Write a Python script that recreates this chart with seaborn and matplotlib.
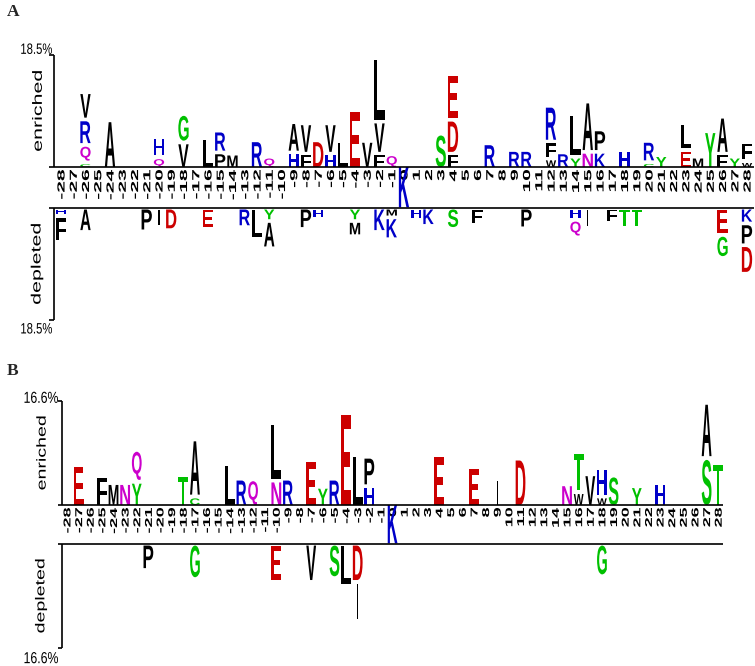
import matplotlib
matplotlib.use("Agg")
import matplotlib.pyplot as plt
import seaborn as sns
from matplotlib.textpath import TextPath
from matplotlib.patches import PathPatch
from matplotlib.font_manager import FontProperties
from matplotlib.transforms import Affine2D, ScaledTranslation

sns.set_theme(style="white")
plt.rcParams["font.family"] = ["Liberation Sans", "DejaVu Sans"]

# ---- panel A, enriched (letters listed from the axis outward, heights in %)
A_UP_POS = [-26, -24, -20, -18, -16, -15, -14, -12, -11, -9, -8, -7, -6, -5, -4, -3, -2, -1,
            3, 4, 7, 9, 10, 12, 13, 14, 15, 16, 18, 20, 21, 23, 24, 25, 26, 27, 28]
A_UP_RES = ["CQRV", "A", "QH", "VG", "L", "PR", "M", "R", "Q", "HA", "FV", "D", "HV", "L", "E", "V",
            "FVL", "Q", "S", "FDE", "R", "R", "R", "WFR", "R", "YL", "NA", "KP", "H", "CR", "Y",
            "EL", "M", "Y", "FA", "Y", "WF"]
A_UP_PCT = [[0.45, 2.3, 3.6, 3.9], [7.4], [1.3, 2.7], [3.75, 4.1], [4.5], [2.1, 3.0], [1.9], [4.1],
            [1.4], [2.1, 4.4], [1.9, 4.4], [4.1], [1.9, 4.4], [3.9], [9.1], [4.0], [1.9, 4.7, 9.8],
            [1.8], [5.2], [1.9, 5.0, 6.9], [3.6], [2.5], [2.5], [1.1, 2.2, 5.3], [2.1], [1.4, 6.4],
            [2.2, 7.7], [2.2, 3.1], [2.5], [0.5, 2.9], [1.65], [2.5, 3.9], [1.4], [5.6], [1.9, 5.5],
            [1.4], [0.66, 2.6]]

# ---- panel A, depleted
A_DN_POS = [-28, -26, -21, -20, -19, -16, -13, -12, -11, -8, -7, -4, -2, -1, 1, 2, 4, 6, 10,
            14, 15, 17, 18, 19, 26, 28]
A_DN_RES = ["HF", "A", "P", "I", "D", "E", "R", "L", "YA", "P", "H", "YM", "K", "MK", "H", "K", "S",
            "F", "P", "HQ", "I", "F", "T", "T", "EG", "KPD"]
A_DN_PCT = [[0.8, 3.7], [3.4], [3.3], [2.5], [3.1], [2.9], [2.6], [4.6], [1.6, 3.9], [2.9], [1.3],
            [1.6, 1.9], [3.4], [1.0, 3.0], [1.4], [2.4], [2.9], [2.2], [2.8], [1.4, 2.3], [2.7],
            [1.9], [2.8], [2.8], [3.9, 3.2], [2.0, 3.0, 4.1]]

# ---- panel B, enriched
B_UP_POS = [-27, -25, -24, -23, -22, -18, -17, -14, -13, -12, -10, -9, -7, -6, -5, -4, -3, -2,
            4, 7, 9, 11, 15, 16, 17, 18, 19, 21, 23, 27, 28]
B_UP_RES = ["E", "F", "M", "N", "YQ", "T", "CA", "L", "R", "Q", "NL", "R", "E", "Y", "R", "E", "L",
            "HP", "E", "E", "I", "D", "N", "WT", "V", "WH", "S", "Y", "H", "SA", "T"]
B_UP_PCT = [[6.1], [4.3], [3.2], [3.2], [3.4, 4.5], [4.4], [1.06, 8.5], [6.2], [3.9], [3.8],
            [3.6, 8.5], [3.9], [6.9], [2.6], [3.9], [14.4], [7.6], [2.7, 4.1], [7.6], [5.7], [3.9],
            [7.1], [3.0], [1.75, 5.85], [4.6], [1.06, 3.9], [4.4], [2.7], [3.2], [7.2, 8.2], [6.4]]

# ---- panel B, depleted
B_DN_POS = [-21, -17, -10, -7, -5, -4, -3, 18]
B_DN_RES = ["P", "G", "E", "V", "S", "L", "DI", "G"]
B_DN_PCT = [[3.6], [5.05], [5.5], [5.5], [4.9], [6.2], [5.5, 5.7], [4.6]]

POSITIONS = list(range(-28, 29))
CENTER_RES = "K"
SCALE_A = 18.5
SCALE_B = 16.6

COLORS = {}
for aa in "AVLPFMWI":
    COLORS[aa] = "#000000"
for aa in "RKH":
    COLORS[aa] = "#0000c8"
for aa in "DE":
    COLORS[aa] = "#cc0000"
for aa in "GSTYC":
    COLORS[aa] = "#00c000"
for aa in "QN":
    COLORS[aa] = "#cc00cc"

W, H = 755, 666
LETTER_FONT = FontProperties(family="Liberation Sans", weight="bold")
LABEL_FONT = FontProperties(family="Liberation Sans", weight="bold")
TEXT_FONT = FontProperties(family="Liberation Sans")

fig = plt.figure(figsize=(W / 100, H / 100), dpi=100)


def letter(ax, ch, x, y0, h, width=0.84):
    tp = TextPath((0, 0), ch, size=1, prop=LETTER_FONT)
    ext = tp.get_extents()
    if ch == "I":
        width = 0.12
    t = (Affine2D().translate(-ext.x0, -ext.y0)
         .scale(width / ext.width, h / ext.height)
         .translate(x - width / 2, y0))
    ax.add_patch(PathPatch(t.transform_path(tp), fc=COLORS[ch], ec="none", lw=0))


def px_text(ax, s, x, y, along, across, rot=False, ha="center", va="center",
            dx=0.0, dy=0.0, prop=TEXT_FONT):
    # text drawn as a path sized in pixels, anchored to a data point
    tp = TextPath((0, 0), s, size=1, prop=prop)
    t = Affine2D().scale(along, across)
    if rot:
        t = t.rotate_deg(90)
    p = t.transform_path(tp)
    e = p.get_extents()
    ox = {"left": e.x0, "center": (e.x0 + e.x1) / 2, "right": e.x1}[ha]
    oy = {"bottom": e.y0, "center": (e.y0 + e.y1) / 2, "top": e.y1}[va]
    p = Affine2D().translate(dx - ox, dy - oy).transform_path(p)
    tr = Affine2D().scale(1 / 100) + fig.dpi_scale_trans + ScaledTranslation(x, y, ax.transData)
    ax.add_patch(PathPatch(p, fc="black", ec="none", lw=0, transform=tr, clip_on=False))


def panel(box, xlim, top, gap, up, dn, tag, tag_top, tick_sz, name_sz, pct_sz, pct_off, name_dx):
    left, right, ytop, ybot = box
    ax = fig.add_axes([left / W, 1 - ybot / H, (right - left) / W, (ybot - ytop) / H])
    ax.set_xlim(*xlim)
    ax.set_ylim(-(gap + top), top)
    ax.axis("off")
    col_px = (right - left) / (xlim[1] - xlim[0])
    tk = 4.5 / col_px
    x0 = xlim[0]
    kw = dict(color="black", lw=1.2, clip_on=False, solid_capstyle="butt")
    ax.plot([x0 - tk, xlim[1]], [0, 0], **kw)
    ax.plot([x0 - tk, xlim[1]], [-gap, -gap], **kw)
    ax.plot([x0, x0], [0, top], **kw)
    ax.plot([x0 - tk, x0], [top, top], **kw)
    ax.plot([x0, x0], [-gap, -gap - top], **kw)
    ax.plot([x0 - tk, x0], [-gap - top, -gap - top], **kw)

    pad = 0.6
    pos, res, pct = up
    for p, letters, hs in zip(pos, res, pct):
        y = 0.0
        for ch, h in zip(letters, hs):
            letter(ax, ch, p, y, h)
            y += h + pad
    pos, res, pct = dn
    for p, letters, hs in zip(pos, res, pct):
        y = -gap - 0.25
        for ch, h in zip(letters, hs):
            letter(ax, ch, p, y - h, h)
            y -= h + pad

    for p in POSITIONS:
        px_text(ax, str(p), p, 0, tick_sz[0], tick_sz[1], rot=True, ha="center", va="top",
                dy=-3, prop=LABEL_FONT)
    letter(ax, CENTER_RES, 0, -gap + 0.1, gap - 0.1)

    lbl = "%.1f%%" % top
    px_text(ax, lbl, x0, top, pct_sz[0], pct_sz[1], ha="right", va="bottom",
            dx=pct_off[0], dy=pct_off[1])
    px_text(ax, lbl, x0, -gap - top, pct_sz[0], pct_sz[1], ha="right", va="top",
            dx=pct_off[0], dy=pct_off[2])
    px_text(ax, "enriched", x0, top / 2, name_sz[0], name_sz[1], rot=True, dx=name_dx)
    px_text(ax, "depleted", x0, -gap - top / 2, name_sz[0], name_sz[1], rot=True, dx=name_dx)
    fig.text(7 / W, 1 - tag_top / H, tag, ha="left", va="top", fontsize=12.5,
             fontweight="bold", family="Liberation Serif")
    return ax


gap_a = 41 / (112 / SCALE_A)
gap_b = 39 / (104 / SCALE_B)
panel((53.5, 754, 55, 320), (-28.61, 28.57), SCALE_A, gap_a,
      (A_UP_POS, A_UP_RES, A_UP_PCT), (A_DN_POS, A_DN_RES, A_DN_PCT), "A", 4,
      (21, 10.3), (21.4, 13.5), (11.3, 15), (-1.5, 1, -3), -16.5)
panel((62, 723, 401, 648), (-28.43, 28.41), SCALE_B, gap_b,
      (B_UP_POS, B_UP_RES, B_UP_PCT), (B_DN_POS, B_DN_RES, B_DN_PCT), "B", 363,
      (18, 10.0), (19.6, 13), (12.3, 16), (-4, -2, -4), -21)

fig.savefig("out.png", dpi=100)
